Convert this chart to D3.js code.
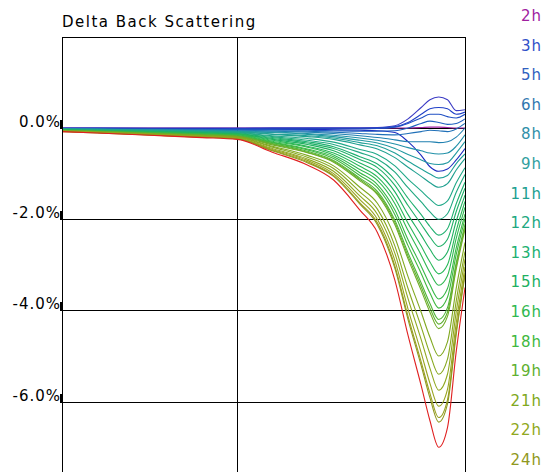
<!DOCTYPE html>
<html>
<head>
<meta charset="utf-8">
<script src="https://cdn.jsdelivr.net/npm/d3@7"></script>
<style>
body { margin: 0; background: #fff; }
text { font-family: "DejaVu Sans", sans-serif; }
</style>
</head>
<body>
<script>
// positions along the sample (mm)
const positions = [0, 4, 10, 16, 20, 24, 28, 31, 34, 36, 38, 39.5, 41, 42, 43, 44, 45, 46];

// delta back scattering (%), one row per scan, first scan to last
const scans = [
  [0, 0, 0, 0, 0, 0, 0, 0, 0, 0, 0, 0, 0.01, 0.02, 0.02, 0.01, 0, 0],
  [0, 0, 0, 0, 0, 0, 0, 0, 0, 0.01, 0.05, 0.2, 0.45, 0.62, 0.68, 0.62, 0.38, 0.4],
  [0, 0, -0.01, -0.01, -0.01, 0, 0, 0, 0, 0, 0.03, 0.12, 0.3, 0.42, 0.45, 0.42, 0.3, 0.35],
  [-0.01, -0.01, -0.01, -0.02, -0.02, -0.02, -0.02, -0.02, -0.02, -0.01, 0.02, 0.1, 0.22, 0.3, 0.3, 0.25, 0.22, 0.3],
  [-0.01, -0.01, -0.02, -0.02, -0.03, -0.03, -0.03, -0.04, -0.05, -0.06, -0.1, -0.3, -0.6, -0.85, -0.95, -0.9, -0.7, -0.45],
  [-0.01, -0.02, -0.03, -0.03, -0.04, -0.04, -0.05, -0.06, -0.07, -0.07, -0.06, 0, 0.1, 0.15, 0.12, 0.08, 0.1, 0.2],
  [-0.02, -0.02, -0.03, -0.04, -0.05, -0.06, -0.07, -0.09, -0.12, -0.14, -0.15, -0.12, -0.08, -0.05, -0.06, -0.08, -0.02, 0.1],
  [-0.02, -0.03, -0.04, -0.05, -0.06, -0.07, -0.09, -0.12, -0.17, -0.21, -0.26, -0.3, -0.3, -0.3, -0.32, -0.3, -0.2, 0],
  [-0.02, -0.03, -0.04, -0.06, -0.07, -0.09, -0.12, -0.16, -0.22, -0.27, -0.35, -0.43, -0.5, -0.55, -0.57, -0.55, -0.4, -0.15],
  [-0.02, -0.03, -0.05, -0.06, -0.08, -0.1, -0.14, -0.19, -0.27, -0.33, -0.45, -0.58, -0.7, -0.78, -0.8, -0.76, -0.55, -0.3],
  [-0.03, -0.04, -0.05, -0.07, -0.08, -0.13, -0.17, -0.22, -0.32, -0.39, -0.55, -0.73, -0.9, -1.01, -1.1, -1.04, -0.78, -0.57],
  [-0.03, -0.04, -0.06, -0.08, -0.09, -0.14, -0.19, -0.25, -0.37, -0.46, -0.65, -0.86, -1.06, -1.2, -1.3, -1.22, -0.92, -0.67],
  [-0.03, -0.04, -0.06, -0.08, -0.1, -0.17, -0.23, -0.31, -0.47, -0.58, -0.83, -1.12, -1.38, -1.56, -1.7, -1.6, -1.2, -0.87],
  [-0.03, -0.05, -0.07, -0.09, -0.11, -0.19, -0.27, -0.36, -0.54, -0.68, -0.97, -1.31, -1.62, -1.84, -2.0, -1.88, -1.41, -1.02],
  [-0.04, -0.05, -0.07, -0.1, -0.12, -0.21, -0.3, -0.41, -0.63, -0.79, -1.14, -1.54, -1.9, -2.16, -2.35, -2.21, -1.66, -1.19],
  [-0.04, -0.06, -0.08, -0.11, -0.13, -0.23, -0.33, -0.45, -0.69, -0.87, -1.26, -1.7, -2.11, -2.39, -2.6, -2.44, -1.83, -1.32],
  [-0.04, -0.06, -0.09, -0.11, -0.13, -0.25, -0.36, -0.5, -0.77, -0.97, -1.4, -1.9, -2.35, -2.66, -2.9, -2.72, -2.04, -1.47],
  [-0.05, -0.06, -0.09, -0.12, -0.14, -0.27, -0.4, -0.55, -0.84, -1.07, -1.54, -2.09, -2.59, -2.94, -3.2, -3.0, -2.25, -1.61],
  [-0.05, -0.07, -0.1, -0.13, -0.15, -0.29, -0.42, -0.59, -0.91, -1.15, -1.66, -2.25, -2.79, -3.17, -3.45, -3.24, -2.42, -1.74],
  [-0.05, -0.07, -0.1, -0.13, -0.16, -0.31, -0.46, -0.63, -0.98, -1.24, -1.8, -2.45, -3.03, -3.44, -3.75, -3.52, -2.63, -1.89],
  [-0.05, -0.07, -0.11, -0.14, -0.17, -0.32, -0.48, -0.67, -1.04, -1.31, -1.9, -2.58, -3.19, -3.62, -3.95, -3.71, -2.77, -1.99],
  [-0.06, -0.08, -0.11, -0.15, -0.18, -0.34, -0.51, -0.71, -1.1, -1.39, -2.02, -2.74, -3.4, -3.85, -4.2, -3.94, -2.95, -2.11],
  [-0.06, -0.08, -0.12, -0.15, -0.18, -0.35, -0.53, -0.73, -1.13, -1.43, -2.07, -2.81, -3.48, -3.95, -4.3, -4.04, -3.02, -2.17],
  [-0.06, -0.08, -0.12, -0.16, -0.19, -0.37, -0.54, -0.75, -1.16, -1.46, -2.12, -2.87, -3.56, -4.04, -4.4, -4.13, -3.09, -2.22],
  [-0.06, -0.09, -0.13, -0.17, -0.2, -0.4, -0.6, -0.83, -1.3, -1.65, -2.4, -3.26, -4.04, -4.59, -5.0, -4.69, -3.51, -2.51],
  [-0.07, -0.09, -0.13, -0.18, -0.21, -0.42, -0.64, -0.89, -1.4, -1.78, -2.59, -3.52, -4.36, -4.95, -5.4, -5.07, -3.79, -2.71],
  [-0.07, -0.1, -0.14, -0.18, -0.22, -0.45, -0.68, -0.95, -1.49, -1.89, -2.75, -3.74, -4.64, -5.27, -5.75, -5.4, -4.03, -2.88],
  [-0.07, -0.1, -0.14, -0.19, -0.23, -0.47, -0.71, -1.0, -1.57, -2.0, -2.91, -3.97, -4.93, -5.6, -6.1, -5.73, -4.27, -3.05],
  [-0.07, -0.1, -0.15, -0.2, -0.23, -0.49, -0.74, -1.04, -1.64, -2.08, -3.03, -4.13, -5.13, -5.82, -6.35, -5.96, -4.45, -3.18],
  [-0.08, -0.11, -0.15, -0.2, -0.24, -0.5, -0.76, -1.06, -1.67, -2.12, -3.08, -4.2, -5.21, -5.92, -6.45, -6.05, -4.52, -3.23],
  [-0.08, -0.11, -0.16, -0.21, -0.25, -0.53, -0.81, -1.14, -1.8, -2.29, -3.34, -4.55, -5.65, -6.42, -7.0, -6.57, -4.9, -3.5]
];

const scanColors = [
  "#a020a0", "#3c3cc4", "#2040c8", "#2050c4", "#1c2cc0", "#2060c0", "#2070b8", "#2080b0",
  "#2090a8", "#2098a0", "#20a098", "#20a090", "#20a888", "#20a880", "#20b070", "#20b068",
  "#20b060", "#28b858", "#30b850", "#38b848", "#40b840", "#50b438", "#60b030", "#70ac28",
  "#80a820", "#88a820", "#90a820", "#98a420", "#98a020", "#909820", "#e02020"
];

const legendLabels = ["2h", "3h", "5h", "6h", "8h", "9h", "11h", "12h", "13h", "15h", "16h", "18h", "19h", "21h", "22h", "24h"];
const legendColors = ["#a0209f", "#3050c8", "#3060c0", "#3078b0", "#3090a8", "#30a0a0", "#20a090", "#20a880",
                      "#20b070", "#20b060", "#30b850", "#40b840", "#60b030", "#80a820", "#90a820", "#909820"];

const yTicks = [0, -2, -4, -6];
const xGrid = [20];

let svg = d3.select("body").append("svg")
    .attr("width", 545)
    .attr("height", 472);

let x = d3.scaleLinear().domain([0, 46]).range([62, 465]);
let y = d3.scaleLinear().domain([2, -6]).range([36.8, 401.6]);

// grille
let grille = svg.append("g").attr("shape-rendering", "crispEdges");
grille.selectAll(".h").data(yTicks).enter().append("line")
    .attr("x1", x(0)).attr("x2", x(46))
    .attr("y1", d => Math.round(y(d)) + 0.5).attr("y2", d => Math.round(y(d)) + 0.5)
    .attr("stroke", "#000").attr("stroke-width", 1.5);
grille.selectAll(".v").data(xGrid).enter().append("line")
    .attr("x1", d => Math.round(x(d)) + 0.5).attr("x2", d => Math.round(x(d)) + 0.5)
    .attr("y1", y(2)).attr("y2", 472)
    .attr("stroke", "#000").attr("stroke-width", 1.5);

// courbes
let ligne = d3.line()
    .x((d, i) => x(positions[i]))
    .y(d => y(d))
    .curve(d3.curveMonotoneX);

svg.append("clipPath").attr("id", "zone")
    .append("rect").attr("x", x(0)).attr("y", y(2)).attr("width", x(46) - x(0)).attr("height", 472);

svg.append("g").attr("clip-path", "url(#zone)")
    .selectAll("path").data(scans).enter().append("path")
    .attr("d", ligne)
    .attr("fill", "none")
    .attr("stroke", (d, i) => scanColors[i])
    .attr("stroke-width", 1.1);

// cadre
let cadre = svg.append("g").attr("shape-rendering", "crispEdges");
cadre.append("line").attr("x1", x(0)).attr("x2", x(46) + 1)
    .attr("y1", Math.round(y(2)) + 0.5).attr("y2", Math.round(y(2)) + 0.5)
    .attr("stroke", "#000").attr("stroke-width", 1.5);
cadre.append("line").attr("x1", Math.round(x(0)) + 0.5).attr("x2", Math.round(x(0)) + 0.5)
    .attr("y1", y(2)).attr("y2", 472)
    .attr("stroke", "#000").attr("stroke-width", 1.5);
cadre.append("line").attr("x1", Math.round(x(46)) + 0.5).attr("x2", Math.round(x(46)) + 0.5)
    .attr("y1", y(2)).attr("y2", 472)
    .attr("stroke", "#000").attr("stroke-width", 1.5);

// petits repères sur l'axe
cadre.selectAll(".mark").data(yTicks).enter().append("rect")
    .attr("x", x(0) - 2.5).attr("width", 3.5)
    .attr("y", d => Math.round(y(d)) - 8).attr("height", 8.5)
    .attr("fill", "#000");

// étiquettes axe Y (trait d'union simple, comme l'original)
svg.selectAll(".tick").data(yTicks).enter().append("text")
    .attr("x", x(0) - 1)
    .attr("y", d => Math.round(y(d)) - 1)
    .attr("text-anchor", "end")
    .attr("font-size", 15)
    .attr("letter-spacing", 1)
    .attr("fill", "#000")
    .text(d => d.toFixed(1) + "%");

// titre
svg.append("text")
    .attr("x", x(0)).attr("y", 27)
    .attr("font-size", 15)
    .attr("letter-spacing", 1.5)
    .attr("fill", "#000")
    .text("Delta Back Scattering");

// légende
svg.selectAll(".leg").data(legendLabels).enter().append("text")
    .attr("x", 542)
    .attr("y", (d, i) => 21 + i * 29.6)
    .attr("text-anchor", "end")
    .attr("font-size", 15)
    .attr("letter-spacing", 1)
    .attr("fill", (d, i) => legendColors[i])
    .text(d => d);
</script>
</body>
</html>
